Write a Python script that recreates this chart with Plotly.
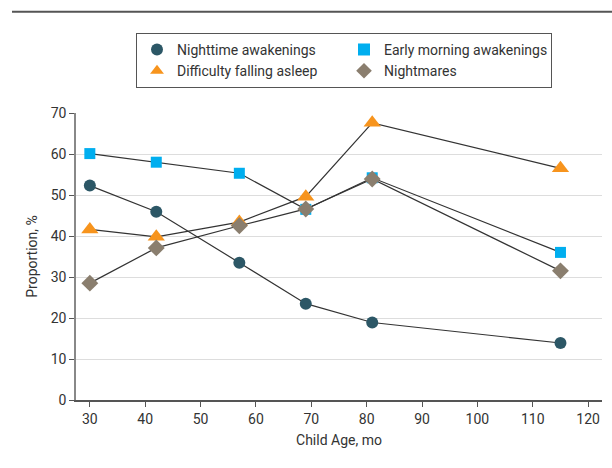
import plotly.graph_objects as go

ages = [30, 42, 57, 69, 81, 115]
night_awake = [52.3, 45.9, 33.5, 23.5, 18.9, 13.9]
early_morning = [60.1, 58.0, 55.3, 46.5, 54.2, 36.0]
diff_asleep = [41.6, 39.8, 43.4, 49.6, 67.6, 56.5]
nightmares = [28.5, 37.1, 42.5, 46.6, 53.9, 31.5]

series = [
    ("Nighttime awakenings", night_awake, "circle", "#2c5766", 12),
    ("Early morning awakenings", early_morning, "square", "#00aeef", 11),
    ("Difficulty falling asleep", diff_asleep, "triangle-up", "#f7941d", 15),
    ("Nightmares", nightmares, "diamond", "#8a7e6e", 13),
]

FONT = "Roboto"
TXT = "#333333"
fig = go.Figure()
for name, vals, sym, col, sz in series:
    fig.add_trace(go.Scatter(
        x=ages, y=vals, name=name, mode="lines+markers", showlegend=False,
        line=dict(color="#333333", width=1.2),
        marker=dict(symbol=sym, color=col, size=sz, line=dict(width=0)),
    ))
# legend-only entries (markers without line)
for name, vals, sym, col, sz in series:
    fig.add_trace(go.Scatter(
        x=[None], y=[None], name=name, mode="markers", showlegend=True,
        marker=dict(symbol=sym, color=col, size=sz, line=dict(width=0)),
    ))

PH = 286.6
fig.update_layout(
    width=612, height=468,
    margin=dict(l=76, r=10, t=113, b=68, autoexpand=False),
    paper_bgcolor="white", plot_bgcolor="white",
    font=dict(family=FONT, size=14, color=TXT),
    showlegend=True,
    legend=dict(
        orientation="h", x=(136 - 76) / 526, xanchor="left", y=1 + (113 - 33) / PH, yanchor="top",
        bordercolor="#555555", borderwidth=1,
        entrywidth=162, entrywidthmode="pixels",
        font=dict(family=FONT, size=14, color=TXT),
        tracegroupgap=0, itemsizing="constant",
    ),
    xaxis=dict(
        range=[27.5, 122.5], tickvals=[30, 40, 50, 60, 70, 80, 90, 100, 110, 120],
        showgrid=False, zeroline=False, showline=True, linecolor="#555555", linewidth=1.5,
        ticks="outside", ticklen=5, tickcolor="#555555", tickwidth=1,
        tickfont=dict(family=FONT, size=14, color=TXT),
        title=dict(text="Child Age, mo", font=dict(family=FONT, size=14, color=TXT), standoff=10),
    ),
    yaxis=dict(
        range=[0, 70], tickvals=[0, 10, 20, 30, 40, 50, 60, 70],
        showgrid=True, gridcolor="#dddddd", gridwidth=1.2, zeroline=False,
        showline=True, linecolor="#888888", linewidth=1.5,
        ticks="outside", ticklen=5, tickcolor="#555555", tickwidth=1,
        tickfont=dict(family=FONT, size=14, color=TXT),
        title=dict(text="Proportion, %", font=dict(family=FONT, size=14, color=TXT), standoff=10),
    ),
)

fig.add_shape(type="line", xref="paper", yref="paper",
              x0=(12 - 76) / 526, x1=(612 - 76) / 526,
              y0=1 + (113 - 12) / PH, y1=1 + (113 - 12) / PH,
              line=dict(color="#555555", width=2))

fig.write_html("out.html", config={"displayModeBar": False},
               post_script="document.body.style.margin='0';")
